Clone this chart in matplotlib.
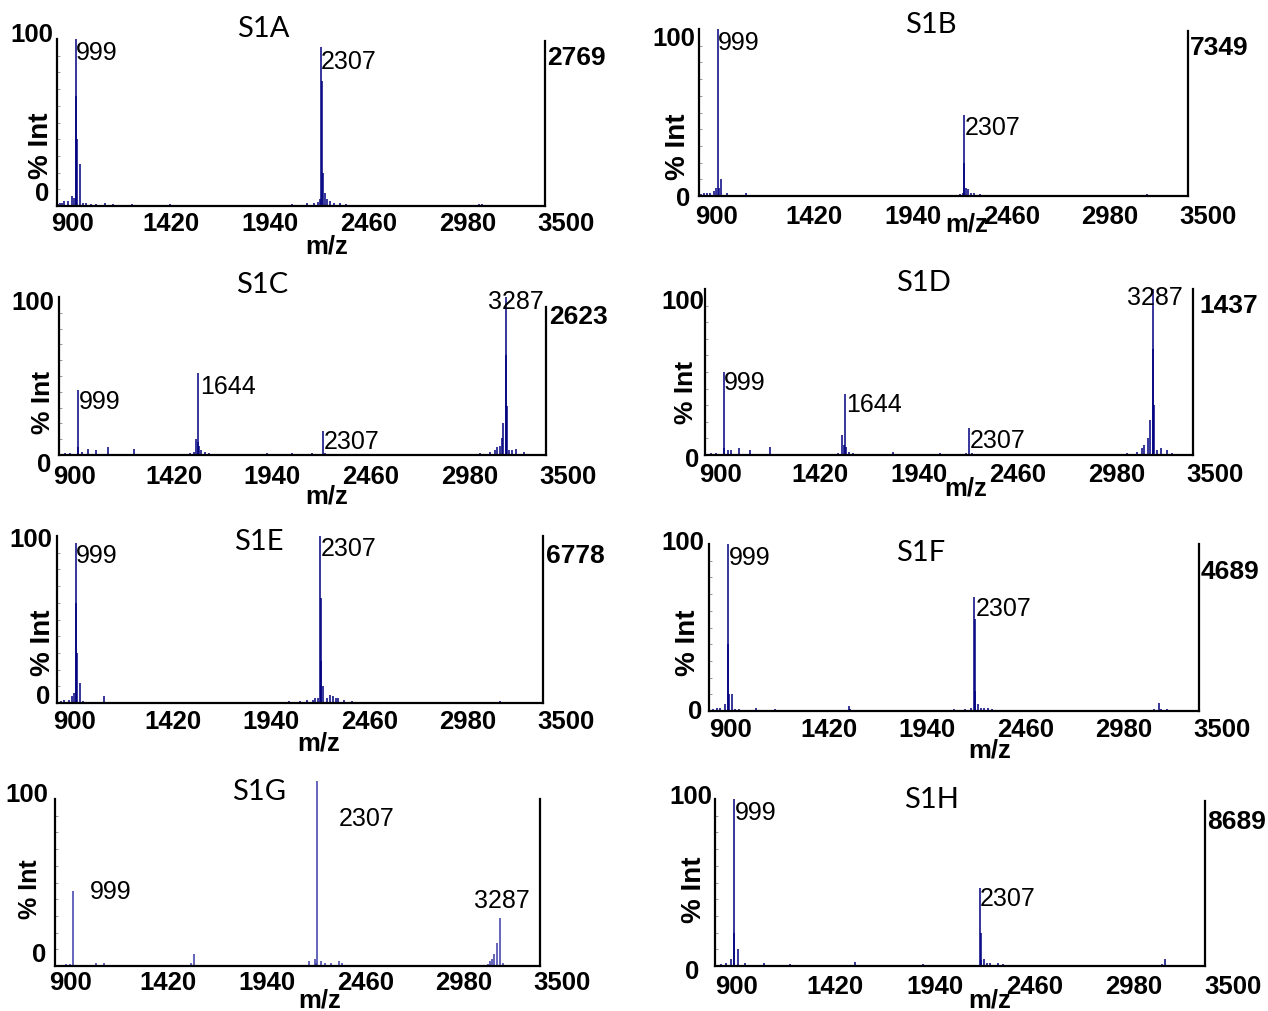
import matplotlib.pyplot as plt

W, H = 1268, 1012

PANELS = ["S1A", "S1B", "S1C", "S1D", "S1E", "S1F", "S1G", "S1H"]
X_TICKS = ["900", "1420", "1940", "2460", "2980", "3500"]

# peaks: m/z and % intensity
S1A_MZ = [905, 915, 925, 939, 957, 978, 990, 999, 1003, 1008, 1021, 1040, 1054, 1080, 1110, 1156, 1200,
          1298, 1420, 1500, 1700, 1900, 2050, 2150, 2230, 2270, 2290, 2300, 2307, 2310, 2315, 2328,
          2340, 2354, 2375, 2407, 2440, 3150, 3165]
S1A_INT = [1, 1.5, 2, 3, 3, 6, 5, 100, 66, 40, 25, 2, 2, 1, 1, 1.5, 1,
           1, 0.8, 1, 0.6, 0.5, 0.8, 1, 1.5, 2, 2.5, 4, 95, 75, 20, 8,
           4, 3, 2, 2, 1, 1, 1]

S1B_MZ = [910, 925, 941, 958, 979, 990, 999, 1004, 1018, 1050, 1149, 1300, 1600, 2100, 2290, 2305,
          2307, 2310, 2318, 2329, 2345, 2360, 2395, 3280]
S1B_INT = [1, 1.5, 2, 2, 3, 5, 100, 5, 10, 2, 2, 0.6, 0.5, 0.5, 1, 2,
           48.5, 20, 5, 4, 2, 1.5, 1, 1]

S1C_MZ = [930, 960, 999, 1002, 1024, 1057, 1096, 1163, 1299, 1600, 1620, 1633, 1640, 1644, 1648, 1660,
          1680, 1700, 2011, 2145, 2253, 2307, 2320, 3150, 3200, 3230, 3239, 3255, 3265, 3270, 3287,
          3289, 3292, 3300, 3320, 3341, 3380]
S1C_INT = [1, 1, 41, 5, 2, 4, 3, 5, 4, 1, 2, 10, 8, 52, 6, 3,
           2, 1, 1.5, 1, 1.5, 15, 1, 1, 2, 3, 5, 6, 11, 20, 100,
           63, 31, 3, 3, 4, 2]

S1D_MZ = [930, 960, 999, 1002, 1020, 1040, 1080, 1140, 1245, 1610, 1630, 1638, 1644, 1650, 1665, 1690,
          1900, 2150, 2290, 2307, 2320, 3150, 3200, 3230, 3240, 3260, 3270, 3287, 3289, 3293, 3310,
          3330, 3360, 3390]
S1D_INT = [1, 1, 50, 4, 3, 3, 4, 3, 5, 1, 12, 6, 37, 5, 2, 1,
           2, 1, 1, 16, 1, 1, 2, 4, 6, 10, 21, 100, 64, 30, 3,
           4, 3, 1]

S1E_MZ = [920, 940, 962, 978, 990, 999, 1003, 1008, 1021, 1040, 1151, 1250, 1500, 1800, 1900, 2000,
          2142, 2200, 2240, 2270, 2282, 2295, 2307, 2310, 2314, 2325, 2347, 2360, 2375, 2390, 2403,
          2433, 2476, 3268]
S1E_INT = [1, 2, 2, 4, 6, 96, 60, 30, 12, 1, 4, 0.5, 0.5, 0.8, 0.8, 0.8,
           1, 1, 1.5, 2, 3, 3, 100, 63, 25, 10, 3, 5, 4, 3, 3,
           2, 1, 1]

S1F_MZ = [920, 940, 960, 985, 999, 1003, 1008, 1021, 1040, 1060, 1150, 1250, 1400, 1644, 1650, 1900,
          2000, 2100, 2200, 2260, 2290, 2307, 2309, 2313, 2328, 2345, 2360, 2380, 2400, 3260, 3287,
          3300, 3330]
S1F_INT = [1, 1.5, 2, 4, 100, 40, 10, 10, 1, 1, 2, 1, 0.5, 3, 1, 0.5,
           0.5, 0.5, 1, 1, 1.5, 68, 55, 12, 4, 2, 2, 1.5, 1, 1, 5,
           1, 1]

S1G_MZ = [961, 979, 999, 1119, 1162, 1300, 1627, 1645, 1900, 2100, 2260, 2292, 2300, 2307, 2324, 2350,
          2379, 2422, 2440, 3220, 3230, 3240, 3255, 3272, 3287, 3300, 3350]
S1G_INT = [1, 1, 45, 2, 1.5, 0.5, 2, 7, 0.5, 0.5, 3, 4, 2, 111, 3, 1.5,
           2, 3, 2, 1, 3, 4, 7, 14, 29, 2, 0.5]

S1H_MZ = [930, 957, 985, 999, 1003, 1023, 1057, 1159, 1297, 1500, 1643, 2005, 2200, 2260, 2290, 2307,
          2310, 2312, 2326, 2345, 2360, 2400, 2430, 3270, 3287]
S1H_INT = [1, 2, 4, 100, 20, 10, 2, 2, 1, 0.5, 2.5, 1, 0.5, 0.5, 0.8, 47,
           20, 3.4, 4, 2, 2, 1.5, 1, 1, 4]

SPECTRA = {
    "S1A": (S1A_MZ, S1A_INT), "S1B": (S1B_MZ, S1B_INT),
    "S1C": (S1C_MZ, S1C_INT), "S1D": (S1D_MZ, S1D_INT),
    "S1E": (S1E_MZ, S1E_INT), "S1F": (S1F_MZ, S1F_INT),
    "S1G": (S1G_MZ, S1G_INT), "S1H": (S1H_MZ, S1H_INT),
}

# absolute counts of the base peak, printed right of each panel
MAX_COUNTS = {"S1A": "2769", "S1B": "7349", "S1C": "2623", "S1D": "1437",
              "S1E": "6778", "S1F": "4689", "S1G": None, "S1H": "8689"}

PEAK_LABELS = {
    "S1A": ["999", "2307"], "S1B": ["999", "2307"],
    "S1C": ["999", "1644", "2307", "3287"], "S1D": ["999", "1644", "2307", "3287"],
    "S1E": ["999", "2307"], "S1F": ["999", "2307"],
    "S1G": ["999", "2307", "3287"], "S1H": ["999", "2307"],
}

# pixel layout of every pasted panel (they are not aligned in the original)
LAYOUT = {
    "S1A": dict(rect=(57, 40, 545, 207), rtop=42, title=(263, 29), y100=(53, 35), y0=(42, 194),
                ylab=(41, 146), ylab_fs=20, cnt=(547, 58), ticks=(72, 566, 224), mz=(327, 246),
                labels=[(76, 53), (321, 62)]),
    "S1B": dict(rect=(699, 30, 1188, 197), rtop=32, title=(931, 25), y100=(695, 39), y0=(683, 199),
                ylab=(678, 147), ylab_fs=20, cnt=(1190, 48), ticks=(716, 1208, 217), mz=(967, 225),
                labels=[(718, 43), (965, 128)]),
    "S1C": dict(rect=(59, 298, 546, 456), rtop=308, title=(262, 285), y100=(54, 303), y0=(44, 465),
                ylab=(43, 402), ylab_fs=19, cnt=(549, 317), ticks=(75, 568, 477), mz=(327, 496),
                labels=[(79, 402), (200, 387), (324, 442), (488, 302)]),
    "S1D": dict(rect=(705, 290, 1193, 456), rtop=290, title=(923, 283), y100=(704, 302), y0=(692, 460),
                ylab=(686, 392), ylab_fs=19, cnt=(1199, 306), ticks=(721, 1215, 475), mz=(966, 489),
                labels=[(724, 383), (846, 405), (970, 441), (1127, 298)]),
    "S1E": dict(rect=(57, 537, 543, 704), rtop=537, title=(259, 542), y100=(52, 540), y0=(43, 697),
                ylab=(43, 643), ylab_fs=20, cnt=(546, 556), ticks=(75, 566, 722), mz=(319, 744),
                labels=[(76, 556), (321, 549)]),
    "S1F": dict(rect=(709, 545, 1199, 712), rtop=545, title=(921, 553), y100=(704, 543), y0=(695, 712),
                ylab=(688, 643), ylab_fs=20, cnt=(1201, 572), ticks=(731, 1222, 730), mz=(990, 750),
                labels=[(729, 558), (976, 609)]),
    "S1G": dict(rect=(55, 800, 540, 967), rtop=800, title=(259, 792), y100=(48, 795), y0=(39, 955),
                ylab=(30, 889), ylab_fs=18, cnt=None, ticks=(70, 562, 983), mz=(320, 1001),
                labels=[(90, 892), (339, 819), (474, 901)]),
    "S1H": dict(rect=(715, 800, 1205, 967), rtop=802, title=(931, 800), y100=(712, 797), y0=(692, 972),
                ylab=(694, 890), ylab_fs=20, cnt=(1207, 822), ticks=(736, 1233, 987), mz=(990, 1001),
                labels=[(735, 813), (980, 899)]),
}

NUM_FONT = "Liberation Sans"
TITLE_FONT = "Lato"


def px(x, y):
    return x / W, 1 - y / H


fig = plt.figure(figsize=(W / 100, H / 100), dpi=100)

for name in PANELS:
    L = LAYOUT[name]
    l, t, r, b = L["rect"]
    ax = fig.add_axes([l / W, 1 - b / H, (r - l) / W, (b - t) / H])
    mz, inten = SPECTRA[name]
    color = "#3a3aa8" if name == "S1G" else "#000080"
    ax.vlines(mz, 0, inten, colors=color, linewidth=1.1, clip_on=False)
    ax.set_xlim(900, 3500)
    ax.set_ylim(0, 100)
    ax.patch.set_alpha(0)

    ax.spines["top"].set_visible(False)
    for s in ("left", "right", "bottom"):
        ax.spines[s].set_linewidth(1.6)
        ax.spines[s].set_color("black")
    ax.spines["right"].set_bounds(0, (b - L["rtop"]) / (b - t) * 100)

    ax.set_xticks([])
    ax.set_yticks(range(10, 100, 10))
    ax.set_yticklabels([])
    ax.tick_params(axis="y", direction="in", length=2.5, width=0.6, colors="#888888")

    # texts
    fig.text(*px(*L["title"]), name, family=TITLE_FONT, fontsize=21, ha="center", va="center")
    fig.text(*px(*L["y100"]), "100", family=NUM_FONT, fontsize=18.5, fontweight="bold",
             ha="right", va="center")
    fig.text(*px(*L["y0"]), "0", family=NUM_FONT, fontsize=18.5, fontweight="bold",
             ha="center", va="center")
    fig.text(*px(*L["ylab"]), "% Int", family=NUM_FONT, fontsize=L["ylab_fs"], fontweight="bold",
             ha="center", va="center", rotation=90)
    if L["cnt"] is not None:
        fig.text(*px(*L["cnt"]), MAX_COUNTS[name], family=NUM_FONT, fontsize=19,
                 fontweight="bold", ha="left", va="center")
    x0, x1, ty = L["ticks"]
    step = (x1 - x0) / (len(X_TICKS) - 1)
    for i, lab in enumerate(X_TICKS):
        fig.text(*px(x0 + i * step, ty), lab, family=NUM_FONT, fontsize=18.5, fontweight="bold",
                 ha="center", va="center")
    fig.text(*px(*L["mz"]), "m/z", family=NUM_FONT, fontsize=18.5, fontweight="bold",
             ha="center", va="center")
    for lab, (lx, ly) in zip(PEAK_LABELS[name], L["labels"]):
        fig.text(*px(lx, ly), lab, family=NUM_FONT, fontsize=18, ha="left", va="center")

fig.savefig("out.png", dpi=100)
